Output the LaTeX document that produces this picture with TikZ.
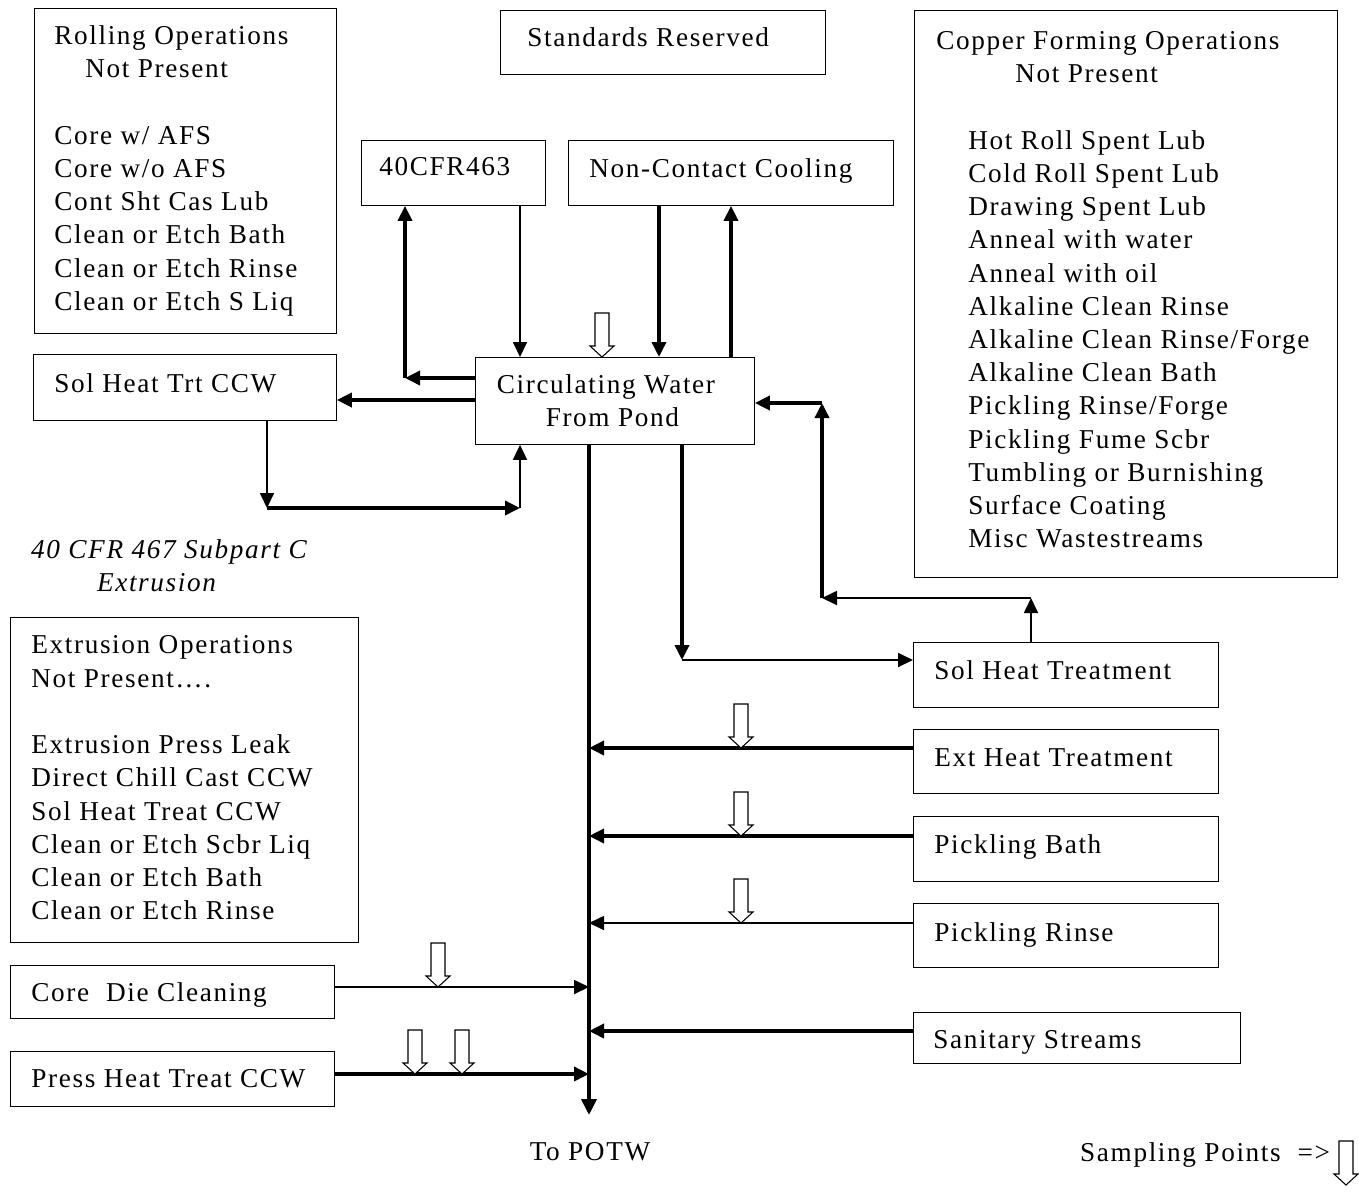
\documentclass[tikz,border=0pt]{standalone}
\usepackage{fontspec}
\setmainfont{Liberation Serif}[LetterSpace=6]
\usetikzlibrary{arrows.meta,calc}

\tikzset{
  box/.style={draw, line width=0.5pt, anchor=north west, inner sep=0pt},
  txt/.style={anchor=west, align=left, inner sep=0pt, xshift=#1},
  txt/.default=0.42cm,
  flow/.style={line width=2pt, -{Triangle[length=0.3cm,width=0.28cm]}},
  thinflow/.style={line width=1pt, -{Triangle[length=0.3cm,width=0.28cm]}},
}
\newcommand{\copind}{\hspace*{0.64cm}}
% open arrow marking a sampling point, tip at #1
\newcommand{\samplept}[1]{%
  \draw[line width=0.6pt, fill=white, shift={(#1)}]
    (-7,-44) -- (7,-44) -- (7,-11) -- (12,-11) -- (0,0) -- (-12,-11) -- (-7,-11) -- cycle;}

\begin{document}
\begin{tikzpicture}[x=0.02cm, y=-0.02cm, font=\fontsize{15.5}{18.9}\selectfont]
\useasboundingbox (0,0) rectangle (1359,1194);

% top row
\node[box, minimum width=6.04cm, minimum height=6.5cm,
  label={[txt=0.4cm]west:{Rolling Operations\\ \hspace*{0.62cm}Not Present\\[18.9pt]
  Core w/ AFS\\ Core w/o AFS\\ Cont Sht Cas Lub\\ Clean or Etch Bath\\
  Clean or Etch Rinse\\ Clean or Etch S Liq}}] (roll) at (34,8) {};
\node[box, minimum width=6.5cm, minimum height=1.28cm,
  label={[txt=0.54cm, yshift=0.1cm]west:{Standards Reserved}}] (std) at (500,10) {};
\node[box, minimum width=8.46cm, minimum height=11.34cm,
  label={[txt=0.44cm, yshift=0.08cm]west:{Copper Forming Operations\\ \hspace*{1.58cm}Not Present\\[18.9pt]
  \copind Hot Roll Spent Lub\\ \copind Cold Roll Spent Lub\\ \copind Drawing Spent Lub\\
  \copind Anneal with water\\ \copind Anneal with oil\\ \copind Alkaline Clean Rinse\\
  \copind Alkaline Clean Rinse/Forge\\ \copind Alkaline Clean Bath\\
  \copind Pickling Rinse/Forge\\ \copind Pickling Fume Scbr\\
  \copind Tumbling or Burnishing\\ \copind Surface Coating\\ \copind Misc Wastestreams}}] (copper) at (914,10) {};

\node[box, minimum width=3.68cm, minimum height=1.3cm,
  label={[txt=0.36cm, yshift=0.12cm]west:{40CFR463}}] (cfr463) at (361,140) {};
\node[box, minimum width=6.5cm, minimum height=1.3cm,
  label={[txt=0.42cm, yshift=0.04cm]west:{Non-Contact Cooling}}] (ncc) at (568,140) {};

% centre
\node[box, minimum width=6.06cm, minimum height=1.32cm,
  label={[txt, yshift=0.08cm]west:{Sol Heat Trt CCW}}] (shtccw) at (33,354) {};
\node[box, minimum width=5.58cm, minimum height=1.74cm, align=center]
  (circ) at (475,357) {Circulating Water\hspace*{0.36cm}\\ From Pond\hspace*{0.1cm}};

\node[font=\fontsize{15.5}{18.9}\selectfont\itshape, align=center]
  (subpart) at (169,566) {40 CFR 467 Subpart C\\ \hspace*{-0.5cm}Extrusion};
\node[box, minimum width=6.96cm, minimum height=6.5cm,
  label={[txt, yshift=0.04cm]west:{Extrusion Operations\\ Not Present\dots.\\[18.9pt]
  Extrusion Press Leak\\ Direct Chill Cast CCW\\ Sol Heat Treat CCW\\
  Clean or Etch Scbr Liq\\ Clean or Etch Bath\\ Clean or Etch Rinse}}] (extr) at (10,617) {};
\node[box, minimum width=6.48cm, minimum height=1.06cm,
  label={[txt, yshift=-0.06cm]west:{Core\ \ Die Cleaning}}] (core) at (10,965) {};
\node[box, minimum width=6.48cm, minimum height=1.1cm,
  label={[txt]west:{Press Heat Treat CCW}}] (press) at (10,1051) {};

% right column
\node[box, minimum width=6.1cm, minimum height=1.3cm,
  label={[txt, yshift=0.1cm]west:{Sol Heat Treatment}}] (sht) at (913,642) {};
\node[box, minimum width=6.1cm, minimum height=1.28cm,
  label={[txt, yshift=0.08cm]west:{Ext Heat Treatment}}] (eht) at (913,729) {};
\node[box, minimum width=6.1cm, minimum height=1.3cm,
  label={[txt, yshift=0.04cm]west:{Pickling Bath}}] (pbath) at (913,816) {};
\node[box, minimum width=6.1cm, minimum height=1.28cm,
  label={[txt]west:{Pickling Rinse}}] (prinse) at (913,903) {};
\node[box, minimum width=6.54cm, minimum height=1.02cm,
  label={[txt=0.4cm, yshift=-0.08cm]west:{Sanitary Streams}}] (sanit) at (913,1012) {};

\node (potwtxt) at (590,1152) {To POTW};
\node[anchor=west] (legend) at (1074,1155) {Sampling Points\ \ =>};

% loops round the pond water
\coordinate (c0) at (520,205);
\draw[thinflow] (c0) -- (c0 |- circ.north);
\coordinate (c1) at (405,378);
\draw[flow] (circ.west |- c1) -- (c1);
\draw[flow] (c1) -- (c1 |- cfr463.south);
\coordinate (c2) at (475,400);
\draw[flow] (c2) -- (c2 -| shtccw.east);
\coordinate (c3) at (267,508);
\coordinate (c4) at (520,508);
\draw[thinflow] (c3 |- shtccw.south) -- (c3);
\draw[flow] (c3) -- (c4);
\draw[thinflow] (c4) -- (c4 |- circ.south);
\coordinate (n1) at (659,205);
\draw[flow] (n1) -- (n1 |- circ.north);
\coordinate (n2) at (731,357);
\draw[flow] (n2) -- (n2 |- ncc.south);
\coordinate (s1) at (682,660);
\draw[flow] (s1 |- circ.south) -- (s1);
\draw[thinflow] (s1) -- (s1 -| sht.west);
\coordinate (s2) at (1031,598);
\coordinate (s3) at (822,598);
\coordinate (s4) at (822,403);
\draw[thinflow] (s2 |- sht.north) -- (s2);
\draw[thinflow] (s2) -- (s3);
\draw[flow] (s3) -- (s4);
\draw[flow] (s4) -- (s4 -| circ.east);

% main line to POTW
\coordinate (potw) at (589,1115);
\draw[line width=2.2pt, -{Triangle[length=0.32cm,width=0.3cm]}] (circ.south -| potw) -- (potw);
\coordinate (t1) at (589,748);
\coordinate (t2) at (589,836);
\coordinate (t3) at (589,923);
\coordinate (t4) at (589,1031);
\coordinate (t5) at (589,987);
\coordinate (t6) at (589,1074);
\draw[flow] (t1 -| eht.west) -- (t1);
\draw[flow] (t2 -| pbath.west) -- (t2);
\draw[thinflow] (t3 -| prinse.west) -- (t3);
\draw[flow] (t4 -| sanit.west) -- (t4);
\draw[thinflow] (t5 -| core.east) -- (t5);
\draw[flow] (t6 -| press.east) -- (t6);

% sampling points
\samplept{602,357}
\samplept{741,748}
\samplept{741,836}
\samplept{741,923}
\samplept{438,987}
\samplept{415,1074}
\samplept{462,1074}
\samplept{1346,1185}
\end{tikzpicture}
\end{document}
